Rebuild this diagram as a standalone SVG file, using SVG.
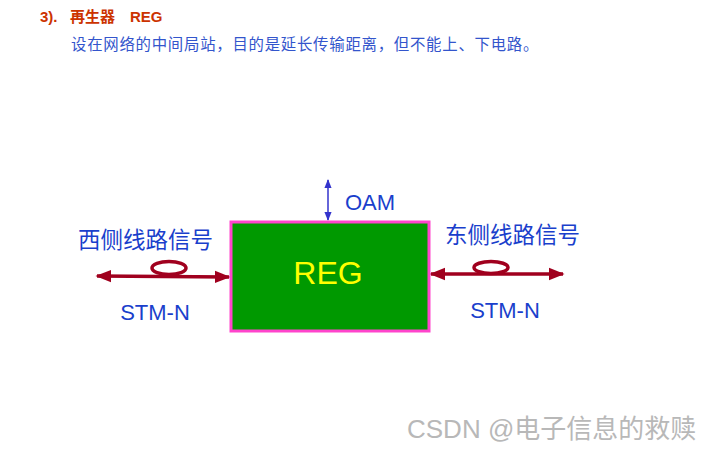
<svg xmlns="http://www.w3.org/2000/svg" width="710" height="450" viewBox="0 0 710 450">
<style>
.cn{font-family:"Liberation Sans","Noto Sans CJK SC",sans-serif}
.lbl{fill:#1a3fcc;font-size:22px}
.zh{font-size:22.5px}
.sig{fill:none;stroke:#a0001e;stroke-width:3.5}
</style>
<defs>
<marker id="ar" viewBox="0 0 10 10" refX="9" refY="5" markerWidth="4.5" markerHeight="4.5" orient="auto-start-reverse" markerUnits="strokeWidth">
<path d="M0,1 L10,5 L0,9 Z" fill="#a0001e"/>
</marker>
<marker id="ab" viewBox="0 0 10 10" refX="9" refY="5" markerWidth="6" markerHeight="6" orient="auto-start-reverse" markerUnits="strokeWidth">
<path d="M0,1 L10,5 L0,9 Z" fill="#3333cc"/>
</marker>
</defs>
<rect width="710" height="450" fill="#fff"/>
<text class="cn" x="40" y="22" font-size="15" font-weight="bold" fill="#cc3300">3).</text>
<text class="cn" x="70" y="22" font-size="15" font-weight="bold" fill="#cc3300">再生器</text>
<text class="cn" x="130" y="22" font-size="15" font-weight="bold" fill="#cc3300">REG</text>
<text class="cn" x="71" y="50" font-size="15.4" letter-spacing="0.75" fill="#3355cc">设在网络的中间局站，目的是延长传输距离，但不能上、下电路。</text>
<g id="connectors">
<line class="sig" x1="97" y1="276" x2="229" y2="277" marker-start="url(#ar)" marker-end="url(#ar)"/>
<ellipse class="sig" cx="169" cy="268" rx="17" ry="6.5" stroke-width="3"/>
<line class="sig" x1="431" y1="274" x2="563" y2="274" marker-start="url(#ar)" marker-end="url(#ar)"/>
<ellipse class="sig" cx="491" cy="267.5" rx="17" ry="6" stroke-width="3"/>
<line x1="328" y1="180" x2="328" y2="220" stroke="#3333cc" stroke-width="1.5" marker-start="url(#ab)" marker-end="url(#ab)"/>
</g>
<g id="reg">
<rect x="231" y="222" width="198" height="109" fill="#009900" stroke="#ff44cc" stroke-width="3"/>
<text class="cn" x="328" y="284" font-size="32" fill="#ffff00" text-anchor="middle">REG</text>
</g>
<g id="labels">
<text class="cn lbl" x="345" y="210">OAM</text>
<text class="cn lbl zh" x="78" y="248">西侧线路信号</text>
<text class="cn lbl zh" x="445" y="243">东侧线路信号</text>
<text class="cn lbl" x="155" y="320" text-anchor="middle">STM-N</text>
<text class="cn lbl" x="505" y="318" text-anchor="middle">STM-N</text>
</g>
<text class="cn" x="407" y="438" font-size="26" fill="#b8b8b8">CSDN @电子信息的救赎</text>
</svg>
